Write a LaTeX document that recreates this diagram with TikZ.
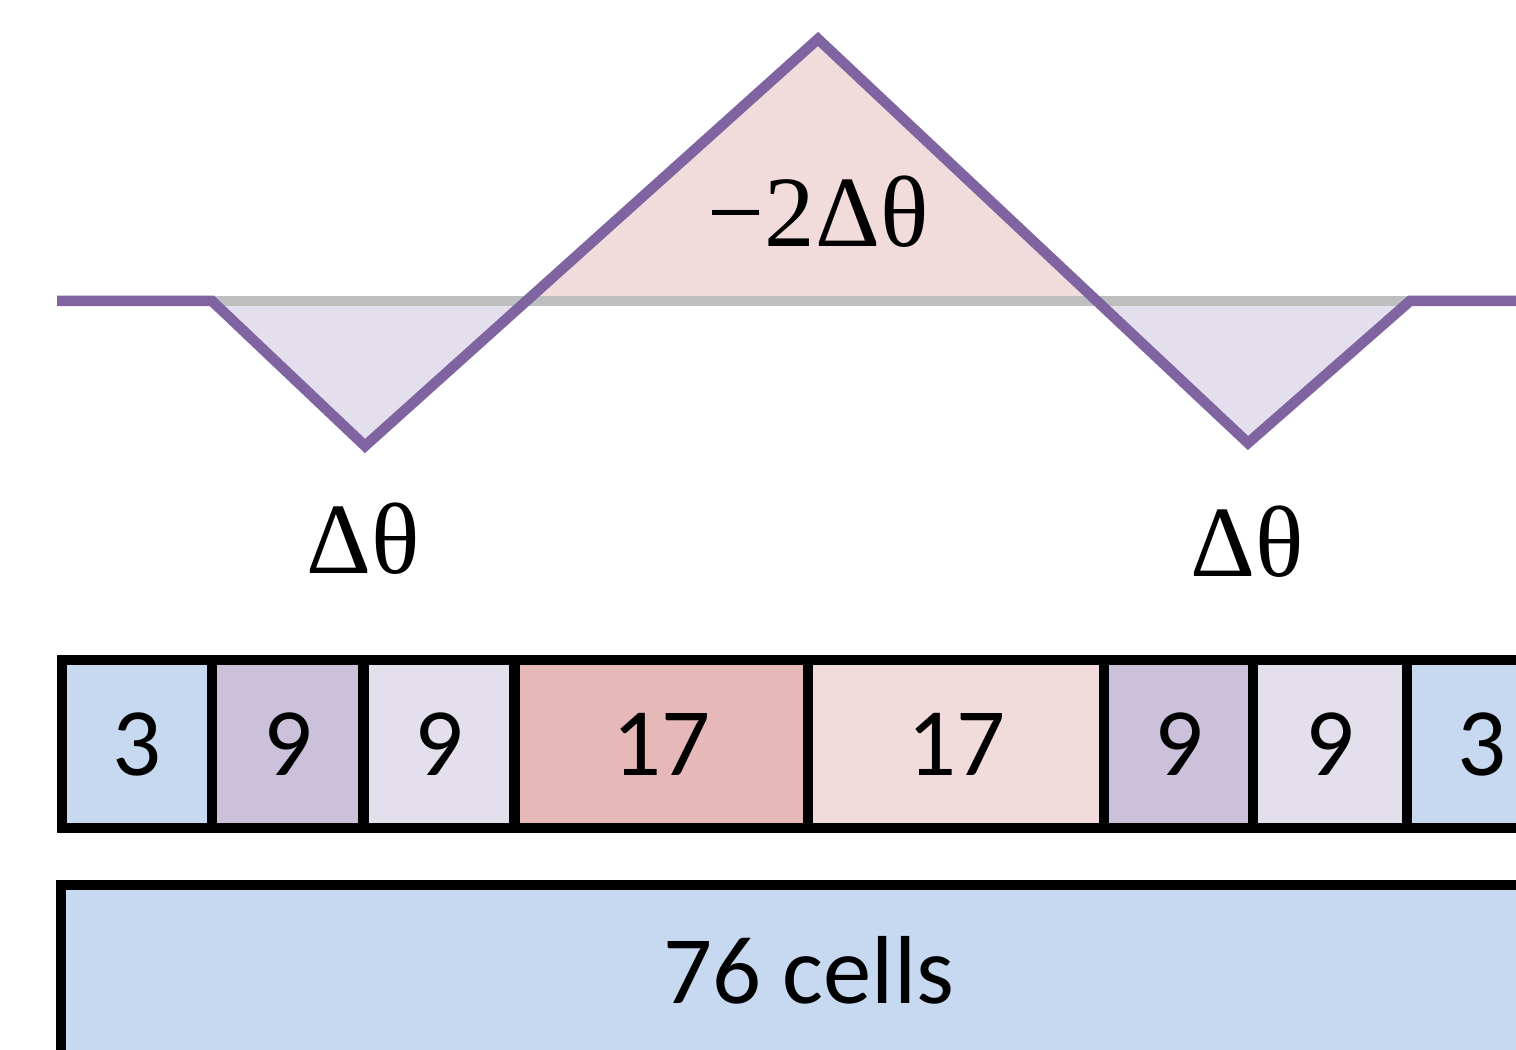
\documentclass[tikz,border=0pt]{standalone}
\usepackage{fontspec}
\newfontfamily\labelserif{Liberation Serif}
\newfontfamily\cellsans{Carlito}
\usetikzlibrary{calc}

\definecolor{curvepurple}{HTML}{8064A2}
\definecolor{axisgrey}{HTML}{BFBFBF}
\definecolor{lilaclight}{HTML}{E4DFEC}
\definecolor{lilacdark}{HTML}{CCC1DA}
\definecolor{pinklight}{HTML}{F2DCDB}
\definecolor{redcell}{HTML}{E6B9B8}
\definecolor{cellblue}{HTML}{C6D9F1}

% one cell of the strip: name, left x, right x, fill colour, count
\newcommand\gridcell[5]{%
  \node[cellbox, fill=#4, minimum width={(#3-#2)*0.02cm}] (#1) at ({(#2+#3)/2},744) {#5};}

\begin{document}
\begin{tikzpicture}[x=0.02cm, y=-0.02cm,
  thick line/.style={line width=0.21cm},
  curve/.style={thick line, draw=curvepurple, line join=miter},
  axis/.style={thick line, draw=axisgrey},
  anglelabel/.style={inner sep=0pt, anchor=base, font=\labelserif\fontsize{57.5}{60}\selectfont},
  cellbox/.style={draw=black, thick line, rectangle, inner sep=0pt,
    minimum height={168*0.02cm}, font=\cellsans\fontsize{55}{58}\selectfont},
  counttext/.style={inner sep=0pt, anchor=base, font=\cellsans\fontsize{55}{58}\selectfont}]

\begin{scope}
\clip (0,0) rectangle (1516,1050);

% corner points of the angle profile
\coordinate (l0) at (57,301);
\coordinate (l1) at (212,301);
\coordinate (v1) at (365,446);
\coordinate (apex) at (818,39);
\coordinate (v2) at (1248,443);
\coordinate (r1) at (1410,301);
\coordinate (r0) at (1540,301);
\coordinate (x1) at ($(v1)!0.356!(apex)$);
\coordinate (x2) at ($(apex)!0.6485!(v2)$);

% shaded areas between profile and axis
\fill[lilaclight] (l1) -- (v1) -- (x1) -- cycle;
\fill[pinklight] (x1) -- (apex) -- (x2) -- cycle;
\fill[lilaclight] (x2) -- (v2) -- (r1) -- cycle;

\draw[axis] (l1) -- (r1);
\draw[curve] (l0) -- (l1) -- (v1) -- (apex) -- (v2) -- (r1) -- (r0);

% angle labels
\node[anglelabel] (dleft) at (363.5,574) {Δθ};
\node[anglelabel] (dright) at (1247,577) {Δθ};
\node[anglelabel] (dmid) at (818,247) {−2Δθ};

% cell strip
\gridcell{c1}{62}{212}{cellblue}{3}
\gridcell{c2}{212}{363.5}{lilacdark}{9}
\gridcell{c3}{363.5}{514.5}{lilaclight}{9}
\gridcell{c4}{514.5}{808}{redcell}{17}
\gridcell{c5}{808}{1104}{pinklight}{17}
\gridcell{c6}{1104}{1253}{lilacdark}{9}
\gridcell{c7}{1253}{1407}{lilaclight}{9}
\gridcell{c8}{1407}{1557}{cellblue}{3}

% full block
\draw[thick line, fill=cellblue] (61,885) rectangle (1600,1120);
\node[counttext] (total) at (808.5,1003) {76 cells};
\end{scope}

\pgfresetboundingbox
\useasboundingbox (0,0) rectangle (1516,1050);
\end{tikzpicture}
\end{document}
